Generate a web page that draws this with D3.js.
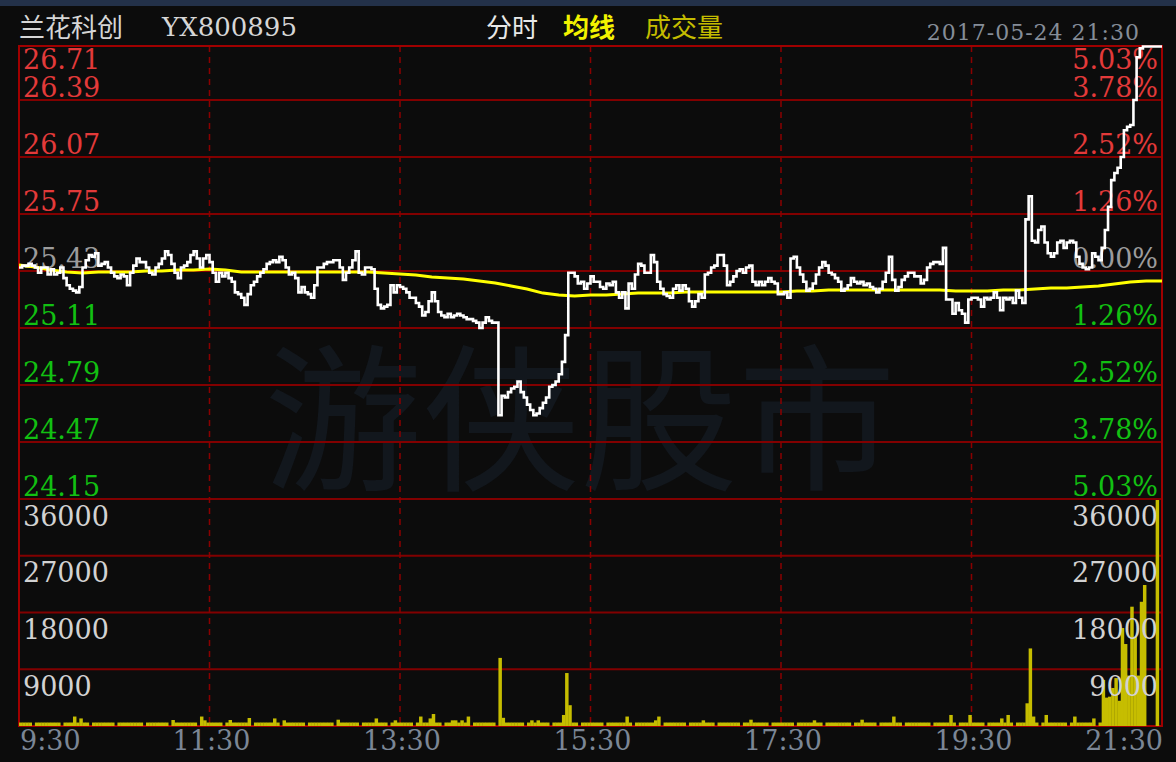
<!DOCTYPE html>
<html><head><meta charset="utf-8">
<script src="https://cdn.jsdelivr.net/npm/d3@7"></script>
<style>html,body{margin:0;padding:0;background:#0c0c0c;overflow:hidden}</style>
</head><body><svg id="c" width="1176" height="762"></svg>
<script>
// ---- data (price every 2 minutes from 9:30) ----
const priceValues = [
25.45,25.46,25.46,25.47,25.46,25.45,25.42,25.45,25.45,25.41,
25.44,25.41,25.42,25.45,25.39,25.35,25.33,25.32,25.31,25.34,
25.45,25.49,25.52,25.51,25.53,25.46,25.47,25.48,25.45,25.42,
25.40,25.39,25.41,25.40,25.35,25.42,25.46,25.50,25.48,25.48,
25.45,25.42,25.41,25.45,25.47,25.50,25.54,25.52,25.47,25.42,
25.39,25.45,25.46,25.48,25.52,25.54,25.50,25.45,25.50,25.52,
25.48,25.42,25.37,25.42,25.40,25.42,25.39,25.37,25.31,25.30,
25.28,25.24,25.30,25.35,25.37,25.40,25.42,25.44,25.47,25.48,
25.49,25.48,25.51,25.49,25.45,25.41,25.42,25.39,25.31,25.34,
25.31,25.30,25.28,25.35,25.45,25.45,25.47,25.48,25.48,25.49,
25.49,25.45,25.38,25.42,25.45,25.49,25.54,25.42,25.41,25.45,
25.45,25.44,25.33,25.24,25.22,25.23,25.24,25.35,25.31,25.35,
25.34,25.33,25.31,25.28,25.28,25.25,25.23,25.18,25.20,25.26,
25.31,25.26,25.20,25.18,25.17,25.19,25.17,25.18,25.19,25.18,
25.17,25.16,25.16,25.15,25.14,25.11,25.14,25.17,25.15,25.14,
25.14,24.62,24.73,24.72,24.75,24.77,24.78,24.81,24.75,24.72,
24.68,24.65,24.62,24.63,24.66,24.69,24.72,24.78,24.79,24.81,
24.85,24.92,25.07,25.42,25.42,25.40,25.36,25.37,25.33,25.36,
25.40,25.37,25.37,25.34,25.33,25.36,25.35,25.37,25.31,25.28,
25.31,25.22,25.36,25.33,25.41,25.47,25.46,25.42,25.42,25.52,
25.48,25.37,25.33,25.30,25.29,25.28,25.33,25.35,25.32,25.35,
25.33,25.26,25.23,25.26,25.30,25.28,25.41,25.42,25.45,25.46,
25.52,25.52,25.46,25.35,25.37,25.40,25.43,25.44,25.42,25.45,
25.46,25.37,25.35,25.37,25.35,25.37,25.39,25.37,25.36,25.30,
25.30,25.31,25.28,25.50,25.51,25.45,25.41,25.37,25.32,25.33,
25.36,25.41,25.45,25.48,25.46,25.42,25.41,25.39,25.37,25.32,
25.33,25.35,25.39,25.37,25.36,25.37,25.35,25.36,25.34,25.33,
25.31,25.33,25.37,25.42,25.51,25.38,25.32,25.34,25.38,25.40,
25.42,25.42,25.40,25.40,25.36,25.38,25.45,25.47,25.48,25.48,
25.47,25.56,25.27,25.27,25.19,25.25,25.21,25.19,25.14,25.27,
25.28,25.28,25.27,25.23,25.28,25.27,25.28,25.31,25.28,25.21,
25.28,25.27,25.28,25.25,25.32,25.28,25.25,25.72,25.85,25.60,
25.59,25.66,25.68,25.59,25.53,25.51,25.53,25.59,25.60,25.56,
25.59,25.60,25.59,25.51,25.47,25.45,25.44,25.45,25.53,25.51,
25.49,25.56,25.66,25.79,25.94,25.98,26.01,26.07,26.22,26.24,
26.25,26.39,26.63,26.68,26.69,26.69,26.69,26.69,26.69,26.69,
26.69];
// average price every 10 minutes
const avgValues = [
25.464,25.452,25.436,25.424,25.419,25.424,25.424,25.424,25.430,25.430,
25.436,25.436,25.441,25.436,25.424,25.424,25.424,25.424,25.424,25.424,
25.424,25.424,25.424,25.419,25.413,25.408,25.396,25.391,25.385,25.374,
25.363,25.346,25.329,25.306,25.295,25.290,25.295,25.295,25.301,25.306,
25.306,25.306,25.312,25.312,25.312,25.312,25.312,25.312,25.312,25.318,
25.318,25.323,25.323,25.323,25.323,25.323,25.323,25.323,25.323,25.318,
25.318,25.318,25.323,25.323,25.329,25.335,25.335,25.340,25.346,25.357,
25.368,25.374,25.374];
// volume per 2-minute bar
const volumeValues = [
550,550,550,550,0,550,550,550,550,550,550,550,550,0,550,550,550,1500,550,1200,
550,550,0,550,550,550,550,550,550,550,0,550,550,550,550,550,550,550,550,0,
550,550,550,550,550,550,550,0,950,550,550,550,550,550,550,550,0,1500,900,550,
550,550,550,550,0,550,950,550,550,550,550,550,1270,0,550,550,550,550,550,550,
1200,550,0,900,550,550,550,550,550,550,0,550,550,550,550,550,550,550,550,0,
1000,550,550,550,550,550,550,0,550,550,550,550,1200,550,550,550,0,550,900,550,
550,550,550,550,0,550,1500,550,550,1200,1900,550,550,0,550,550,900,900,550,900,
550,1500,0,550,550,550,550,550,550,550,0,10800,1300,550,550,550,550,550,550,0,
550,900,550,900,550,550,550,0,550,550,550,1750,8400,3300,550,550,0,550,550,550,
550,550,550,550,0,550,550,550,550,550,550,1500,550,0,550,550,550,550,550,550,
900,1500,0,550,550,550,550,550,550,550,0,550,550,550,550,900,550,550,550,0,
550,550,550,550,550,550,550,0,550,550,1000,550,550,550,550,550,0,550,550,550,
550,550,550,550,0,550,550,550,550,550,900,550,550,0,550,550,550,550,550,550,
550,550,0,550,550,1000,550,550,550,550,0,550,550,550,550,1500,550,550,0,550,
550,550,550,550,550,550,550,0,550,550,550,550,550,1750,550,0,550,550,550,1750,
550,550,550,550,0,550,550,550,550,1200,550,1750,550,0,550,550,550,3600,12300,1500,
550,0,550,1750,550,550,550,550,550,550,0,550,1500,550,550,550,550,550,1200,0,
550,7300,4500,4650,6030,7600,4000,15540,13000,8000,18920,14160,8000,19700,22360,0,0,0,35840,0,
0];
const priceTicks = [26.71,26.39,26.07,25.75,25.43,25.11,24.79,24.47,24.15];
const pctLabels = ["5.03%","3.78%","2.52%","1.26%","0.00%","1.26%","2.52%","3.78%","5.03%"];
const volumeTicks = [36000,27000,18000,9000];
const timeLabels = ["9:30","11:30","13:30","15:30","17:30","19:30","21:30"];
const timeMinutes = [0,120,240,360,480,600,720];
const prevClose = 25.43;

// ---- layout ----
const L = 19, R = 1162, PT = 46, PB = 499, VB = 726;
const svg = d3.select("#c");
const x = d3.scaleLinear().domain([0,720]).range([L,R]);
const y = d3.scaleLinear().domain([24.15,26.71]).range([499,43]);
const vy = d3.scaleLinear().domain([0,36000]).range([VB,PB]);

svg.append("rect").attr("width",1176).attr("height",762).attr("fill","#0c0c0c");
svg.append("rect").attr("width",1176).attr("height",6).attr("fill","#233149");

// watermark
svg.append("text").attr("x",580).attr("y",478).attr("text-anchor","middle")
  .attr("font-family","'Noto Sans CJK SC'").attr("font-size",158).attr("font-weight",400)
  .attr("fill","#12171d").text("游侠股市");

// header
const cjk = "'Noto Sans CJK SC','Noto Sans CJK JP',sans-serif";
const serif = "'DejaVu Serif',serif";
svg.append("text").attr("x",19).attr("y",37).attr("font-family",cjk).attr("font-size",26).attr("fill","#d6d6d6").text("兰花科创");
svg.append("text").attr("x",162).attr("y",36).attr("font-family",serif).attr("font-size",26).attr("fill","#d6d6d6").text("YX800895");
svg.append("text").attr("x",486).attr("y",37).attr("font-family",cjk).attr("font-size",26).attr("fill","#e8e8e8").text("分时");
svg.append("text").attr("x",563).attr("y",37).attr("font-family",cjk).attr("font-size",26).attr("font-weight",700).attr("fill","#f2f200").text("均线");
svg.append("text").attr("x",645).attr("y",37).attr("font-family",cjk).attr("font-size",26).attr("fill","#c4bc00").text("成交量");
svg.append("text").attr("x",1140).attr("y",40).attr("text-anchor","end").attr("font-family",serif).attr("font-size",22)
  .attr("letter-spacing",1).attr("fill","#858d98").text("2017-05-24 21:30");

// grid
const grid = svg.append("g");
priceTicks.slice(1).forEach(p=>{
  grid.append("line").attr("x1",L).attr("x2",R).attr("y1",y(p)).attr("y2",y(p))
    .attr("stroke","#820000").attr("stroke-width",2);
});
volumeTicks.slice(1).forEach(v=>{
  grid.append("line").attr("x1",L).attr("x2",R).attr("y1",vy(v)).attr("y2",vy(v))
    .attr("stroke","#820000").attr("stroke-width",2);
});
timeMinutes.slice(1,-1).forEach(m=>{
  grid.append("line").attr("x1",x(m)).attr("x2",x(m)).attr("y1",PT).attr("y2",VB)
    .attr("stroke","#8a0000").attr("stroke-width",1.5).attr("stroke-dasharray","6,5");
});
grid.append("rect").attr("x",L).attr("y",PT).attr("width",R-L).attr("height",VB-PT)
  .attr("fill","none").attr("stroke","#a00000").attr("stroke-width",2);

// volume bars
const bw = x(2)-x(0);
svg.append("g").selectAll("rect").data(volumeValues.map((v,i)=>({v,i})).filter(d=>d.v>0))
  .join("rect").attr("x",d=>x(d.i*2)).attr("width",bw+0.3)
  .attr("y",d=>vy(d.v)).attr("height",d=>vy(0)-vy(d.v)).attr("fill","#c6bd00");

// price labels (drawn before the line)
const colorOf = p => p>prevClose+1e-9 ? "#e33a3a" : (p<prevClose-1e-9 ? "#12c012" : "#9c9c9c");
const labY = p => Math.max(y(p)-3, PT+23);
svg.append("g").selectAll("text").data(priceTicks).join("text")
  .attr("x",23).attr("y",labY).attr("font-family",serif).attr("font-size",27)
  .attr("fill",colorOf).text(d=>d.toFixed(2));
svg.append("g").selectAll("text").data(priceTicks).join("text")
  .attr("x",1158).attr("y",labY).attr("text-anchor","end").attr("font-family",serif).attr("font-size",27)
  .attr("fill",colorOf).text((d,i)=>pctLabels[i]);
svg.append("g").selectAll("text").data(volumeTicks).join("text")
  .attr("x",23).attr("y",d=>vy(d)+26.5).attr("font-family",serif).attr("font-size",27)
  .attr("fill","#d2d2d2").text(d=>d);
svg.append("g").selectAll("text").data(volumeTicks).join("text")
  .attr("x",1158).attr("y",d=>vy(d)+26.5).attr("text-anchor","end").attr("font-family",serif).attr("font-size",27)
  .attr("fill","#d2d2d2").text(d=>d);

// time labels
svg.append("g").selectAll("text").data(timeLabels).join("text")
  .attr("x",(d,i)=> i===0 ? L+1 : (i===timeLabels.length-1 ? R+1 : x(timeMinutes[i])+2))
  .attr("text-anchor",(d,i)=> i===0 ? "start" : (i===timeLabels.length-1 ? "end" : "middle"))
  .attr("y",750).attr("font-family",serif).attr("font-size",27).attr("fill","#7b8695").text(d=>d);

// lines
svg.append("defs").append("clipPath").attr("id","pc").append("rect")
  .attr("x",L).attr("y",PT-1).attr("width",R-L).attr("height",PB-PT+1);
const lines = svg.append("g").attr("clip-path","url(#pc)");
lines.append("path").datum(avgValues)
  .attr("d",d3.line().x((d,i)=>x(i*10)).y(d=>y(d)))
  .attr("fill","none").attr("stroke","#ffff00").attr("stroke-width",3);
lines.append("path").datum(priceValues)
  .attr("d",d3.line().x((d,i)=>x(i*2)).y(d=>y(d)).curve(d3.curveStepAfter))
  .attr("fill","none").attr("stroke","#ffffff").attr("stroke-width",2.6);
</script></body></html>
